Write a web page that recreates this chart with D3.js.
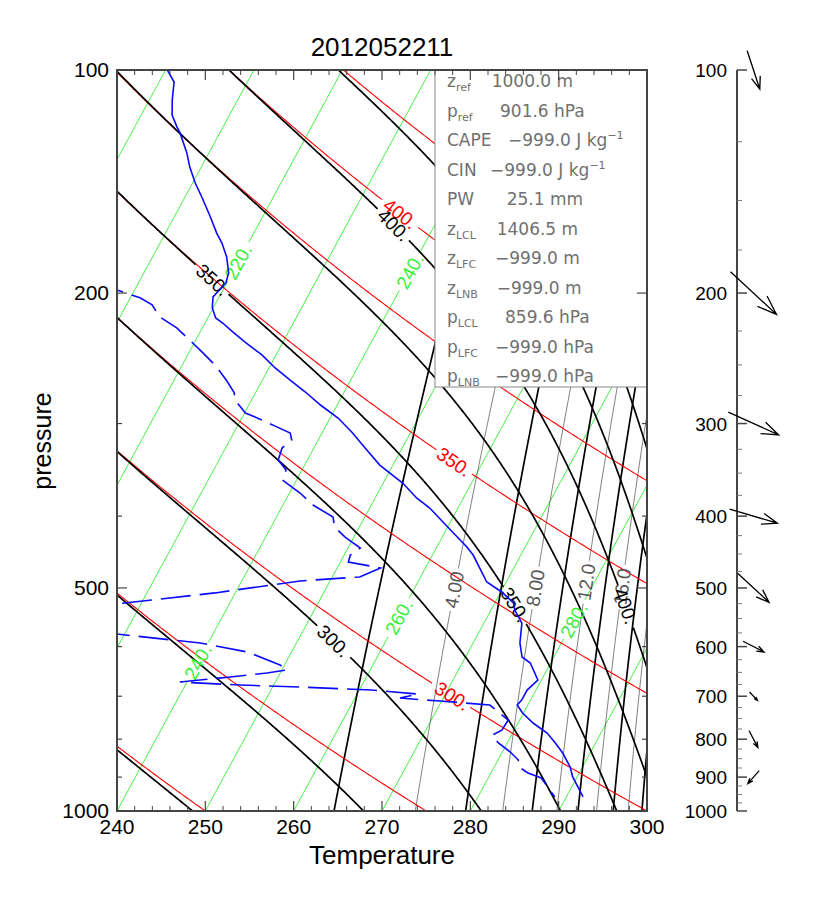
<!DOCTYPE html>
<html>
<head>
<meta charset="utf-8">
<script src="https://cdn.jsdelivr.net/npm/d3@7"></script>
<style>
  body { margin: 0; background: #fff; }
  text { font-family: "Liberation Sans", Arial, sans-serif; }
  .box text { font-family: "DejaVu Sans", sans-serif; }
</style>
</head>
<body>
<svg id="chart" width="814" height="910"></svg>
<script>
// --- sounding, pressure hPa / temperature K ---
const tempP = [100.0,103.8,109.8,115.0,119.4,121.6,129.4,135.2,142.1,148.4,157.9,166.0,171.2,178.8,187.9,193.8,198.1,202.4,209.5,216.1,219.5,224.3,232.9,242.4,252.4,262.0,272.0,283.2,294.9,308.0,323.7,341.3,360.9,378.1,390.1,413.8,440.3,451.4,490.9,506.3,523.8,535.7,557.8,593.3,619.7,631.4,665.6,686.7,708.4,719.4,737.5,760.8,784.8,807.1,835.1,872.2,899.7,928.1,957.4];
const tempK = [200.2,201.7,202.6,203.5,204.8,205.5,207.5,208.7,210.3,211.9,214.1,215.8,217.0,218.4,219.6,219.9,219.6,219.3,219.9,220.9,222.0,223.3,225.7,228.4,230.7,233.1,235.6,238.1,240.9,243.3,245.8,248.5,252.2,254.7,256.8,260.0,263.4,264.6,267.8,270.1,272.1,272.7,274.3,275.3,276.4,277.7,279.6,279.0,279.0,278.8,279.9,281.7,283.9,285.3,286.9,288.6,289.5,290.7,291.9];
const dewP = [193.2,198.1,203.0,207.5,215.4,222.9,231.4,240.9,250.1,262.0,272.0,280.5,290.3,296.7,302.2,309.0,315.7,323.7,336.0,346.6,357.5,372.3,386.4,401.1,413.8,426.9,441.7,451.4,461.3,469.9,483.2,489.3,507.8,525.4,548.8,577.0,593.3,610.1,635.3,645.2,651.3,659.5,669.8,676.1,680.3,686.7,695.3,704.0,710.6,719.4,737.5,753.8,777.7,789.9,809.5,832.5,853.5,872.2,888.6,902.5,957.4];
const dewK = [205.0,208.0,211.1,212.9,214.5,217.1,219.3,221.6,223.7,225.9,227.5,228.4,230.1,232.4,234.2,236.4,237.0,236.4,236.7,238.2,238.4,241.2,243.4,246.4,247.2,249.0,251.4,250.7,250.9,254.9,253.1,246.6,237.7,227.3,222.8,229.1,239.1,245.0,249.5,250.6,248.5,244.6,239.2,246.2,253.1,261.4,266.9,265.1,269.8,275.7,277.3,278.7,278.6,277.8,279.0,280.9,282.3,282.8,284.2,286.0,288.7];

// --- winds, m/s ---
const windP = [100,200,300,400,500,600,700,800,900];
const windU = [6.3,23.0,25.2,23.9,15.6,10.5,4.0,4.4,-5.7];
const windV = [-19.2,-21.3,-11.4,-7.1,-14.4,-5.4,-4.2,-8.4,-6.5];

// --- background line values ---
const isothermK = [200,210,220,230,240,250,260,270,280,290,300];
const thetaK = [250,275,300,325,350,375,400,425,450,475];
const thetaEK = [250,275,300,325,350,375,400,425,450,475];
const mixThick = [2,6,10,14,18,22];
const mixThin = [4,8,12,16,20];

// --- ticks ---
const tempTicks = [240,250,260,270,280,290,300];
const tempMinor = [242,244,246,248,252,254,256,258,262,264,266,268,272,274,276,278,282,284,286,288,292,294,296,298];
const presLabels = [100,200,500,1000];
const presTicks = [100,200,300,400,500,600,700,800,900,1000];
const windLabels = [100,200,300,400,500,600,700,800,900,1000];

// --- parameter box ---
const parName = ["z","p","CAPE","CIN","PW","z","z","z","p","p","p"];
const parSub  = ["ref","ref","","","","LCL","LFC","LNB","LCL","LFC","LNB"];
const parVal  = [1000.0,901.6,-999.0,-999.0,25.1,1406.5,-999.0,-999.0,859.6,-999.0,-999.0];
const parUnit = ["m","hPa","J kg","J kg","mm","m","m","m","hPa","hPa","hPa"];
const parSup  = ["","","\u22121","\u22121","","","","","","",""];

const svg = d3.select("#chart");
const S = 45.5;   // skew, K per decade of pressure
const x = d3.scaleLinear().domain([240, 300]).range([117, 647]);
const y = d3.scaleLog().domain([1000, 100]).range([811, 70]);
const sx = (T, p) => x(T + S * Math.log10(1000 / p));

const pGrid = d3.range(0, 401).map(i => 1000 * Math.pow(10, -i / 400));

function esat(T) { const c = T - 273.15; return 6.112 * Math.exp(17.67 * c / (c + 243.5)); }
function thetaEs(T, p) {
    const e = esat(T);
    if (e > p * 0.4) return 1e4;
    const r = 622 * e / (p - e);
    return T * Math.pow(1000 / p, 0.2854 * (1 - 0.00028 * r)) * Math.exp((3.376 / T - 0.00254) * r * (1 + 0.00081 * r));
}
function solveT(val, p) {
    let lo = 120, hi = 340;
    for (let i = 0; i < 50; i++) { const m = (lo + hi) / 2; if (thetaEs(m, p) < val) lo = m; else hi = m; }
    return (lo + hi) / 2;
}
function mixT(r, p) { const e = r * p / (622 + r); const a = Math.log(e / 6.112); return 243.5 * a / (17.67 - a) + 273.15; }

const posIso = (T, p) => [sx(T, p), y(p)];
const posTheta = (th, p) => [sx(th * Math.pow(p / 1000, 0.2857), p), y(p)];
const posThetaE = (th, p) => [sx(solveT(th, p), p), y(p)];
const posMix = (r, p) => [sx(mixT(r, p), p), y(p)];

svg.append("defs").append("clipPath").attr("id", "plotClip")
    .append("rect").attr("x", 117).attr("y", 70).attr("width", 530).attr("height", 741);
const bg = svg.append("g").attr("clip-path", "url(#plotClip)");

// label places (value, pressure)
const isoLab = [[220,181.5],[240,186.8],[240,629],[260,547],[280,552.6]];
const thetaLab = [[300,699.6],[350,338],[400,156.3]];
const thetaELab = [[300,589.7],[350,192],[350,527],[400,161.9],[400,528.9]];
const mixLab = [[4,503],[8,500],[12,490.9],[16,498]];

const labelLayer = [];
function family(values, pos, labs, fmt, color, width, pMin, labColor) {
    values.forEach(v => {
        const pts = pGrid.filter(p => p >= pMin).map(p => pos(v, p));
        const mine = labs.filter(l => l[0] === v).map(l => {
            const c = pos(v, l[1]), a = pos(v, l[1] * 1.01), b = pos(v, l[1] / 1.01);
            let ang = Math.atan2(b[1] - a[1], b[0] - a[0]) * 180 / Math.PI;
            if (ang > 90) ang -= 180;
            if (ang < -90) ang += 180;
            return { c, ang, t: fmt(v) };
        });
        const line = d3.line()
            .defined(d => mine.every(l => Math.hypot(d[0] - l.c[0], d[1] - l.c[1]) > 21))
            .x(d => d[0]).y(d => d[1]);
        bg.append("path").attr("d", line(pts)).attr("fill", "none")
            .attr("stroke", color).attr("stroke-width", width);
        mine.forEach(l => labelLayer.push({ ...l, color: labColor || color }));
    });
}

const f0 = v => v + ".";
family(isothermK, posIso, isoLab, f0, "#3af03a", 1, 100);
family(mixThin, posMix, mixLab, v => v < 10 ? v.toFixed(2) : v.toFixed(1), "#444", 0.7, 150, "#555");
family(mixThick, posMix, [], f0, "#000", 1.7, 150);
family(thetaK, posTheta, thetaLab, f0, "#ff0000", 1.1, 100);
family(thetaEK, posThetaE, thetaELab, f0, "#000", 1.7, 100);

labelLayer.forEach(l => {
    bg.append("text").attr("transform", `translate(${l.c[0]},${l.c[1]}) rotate(${l.ang})`)
        .attr("text-anchor", "middle").attr("dy", "0.35em")
        .style("font-size", "19px").style("fill", l.color).text(l.t);
});

// sounding
const snd = d3.line().x(d => sx(d[1], d[0])).y(d => y(d[0]));
bg.append("path").attr("d", snd(dewP.map((p, i) => [p, dewK[i]])))
    .attr("fill", "none").attr("stroke", "#0a0aff").attr("stroke-width", 1.6)
    .attr("stroke-dasharray", "30,9");
bg.append("path").attr("d", snd(tempP.map((p, i) => [p, tempK[i]])))
    .attr("fill", "none").attr("stroke", "#0a0aff").attr("stroke-width", 1.6);

// parameter box
const box = svg.append("g").attr("class", "box");
box.append("rect").attr("x", 435).attr("y", 70).attr("width", 212).attr("height", 317)
    .attr("fill", "#fff").attr("stroke", "#888").attr("stroke-width", 1);
const valX = [491.7,500,508,490,506.7,496.7,495,496.7,505,495,495];
const fmtVal = v => (v < 0 ? "\u2212" : "") + Math.abs(v).toFixed(1);
parName.forEach((n, i) => {
    const by = 87 + i * 29.5;
    const t = box.append("text").attr("x", 447).attr("y", by).style("font-size", "17px").style("fill", "#707070");
    t.append("tspan").text(n);
    if (parSub[i]) t.append("tspan").attr("dy", 4).style("font-size", "11px").text(parSub[i]);
    const vt = box.append("text").attr("x", valX[i]).attr("y", by).style("font-size", "17px").style("fill", "#707070");
    vt.append("tspan").text(fmtVal(parVal[i]) + " " + parUnit[i]);
    if (parSup[i]) vt.append("tspan").attr("dy", -7).style("font-size", "11px").text(parSup[i]);
});

// frame and ticks
const ax = svg.append("g").attr("stroke", "#444");
ax.append("rect").attr("x", 117).attr("y", 70).attr("width", 530).attr("height", 741)
    .attr("fill", "none").attr("stroke-width", 2);
tempTicks.forEach(t => {
    ax.append("line").attr("x1", x(t)).attr("x2", x(t)).attr("y1", 811).attr("y2", 801).attr("stroke-width", 1.2);
    ax.append("line").attr("x1", x(t)).attr("x2", x(t)).attr("y1", 70).attr("y2", 80).attr("stroke-width", 1.2);
});
tempMinor.forEach(t => {
    ax.append("line").attr("x1", x(t)).attr("x2", x(t)).attr("y1", 811).attr("y2", 806).attr("stroke-width", 1);
    ax.append("line").attr("x1", x(t)).attr("x2", x(t)).attr("y1", 70).attr("y2", 75).attr("stroke-width", 1);
});
presTicks.forEach(p => {
    const len = presLabels.includes(p) ? 10 : 5;
    ax.append("line").attr("x1", 117).attr("x2", 117 + len).attr("y1", y(p)).attr("y2", y(p)).attr("stroke-width", 1.2);
    ax.append("line").attr("x1", 647).attr("x2", 647 - len).attr("y1", y(p)).attr("y2", y(p)).attr("stroke-width", 1.2);
});
tempTicks.forEach(t => svg.append("text").attr("x", x(t)).attr("y", 834).attr("text-anchor", "middle")
    .style("font-size", "21px").text(t));
presLabels.forEach(p => svg.append("text").attr("x", 109).attr("y", y(p) + 7).attr("text-anchor", "end")
    .style("font-size", "21px").text(p));

svg.append("text").attr("x", 382).attr("y", 56).attr("text-anchor", "middle").style("font-size", "26px").text("2012052211");
svg.append("text").attr("x", 382).attr("y", 864).attr("text-anchor", "middle").style("font-size", "26px").text("Temperature");
svg.append("text").attr("transform", "translate(51,441) rotate(-90)").attr("text-anchor", "middle")
    .style("font-size", "25px").text("pressure");

// wind panel
const wx = 737;
const wp = svg.append("g");
wp.append("line").attr("x1", wx).attr("x2", wx).attr("y1", 70).attr("y2", 811).attr("stroke", "#444").attr("stroke-width", 2);
d3.range(125, 1000, 25).filter(p => p % 100).forEach(p => {
    wp.append("line").attr("x1", wx).attr("x2", wx + 5).attr("y1", y(p)).attr("y2", y(p)).attr("stroke", "#777").attr("stroke-width", 1);
});
windLabels.forEach(p => {
    wp.append("line").attr("x1", wx).attr("x2", wx + 10).attr("y1", y(p)).attr("y2", y(p)).attr("stroke", "#444").attr("stroke-width", 1.5);
    wp.append("text").attr("x", 727).attr("y", y(p) + 7).attr("text-anchor", "end").style("font-size", "19px").text(p);
});
const k = 2, cx = 753.5;
windP.forEach((p, i) => {
    const dx = windU[i] * k, dy = -windV[i] * k;
    const len = Math.hypot(dx, dy), cy = y(p);
    const x0 = cx - dx / 2, y0 = cy - dy / 2, x1 = cx + dx / 2, y1 = cy + dy / 2;
    const ang = Math.atan2(dy, dx), h = len * 0.33, spread = 20 * Math.PI / 180;
    const path = d3.path();
    path.moveTo(x0, y0); path.lineTo(x1, y1);
    path.moveTo(x1 - h * Math.cos(ang - spread), y1 - h * Math.sin(ang - spread)); path.lineTo(x1, y1);
    path.lineTo(x1 - h * Math.cos(ang + spread), y1 - h * Math.sin(ang + spread));
    wp.append("path").attr("d", path.toString()).attr("fill", "none").attr("stroke", "#000").attr("stroke-width", 1.3);
});
</script>
</body>
</html>
